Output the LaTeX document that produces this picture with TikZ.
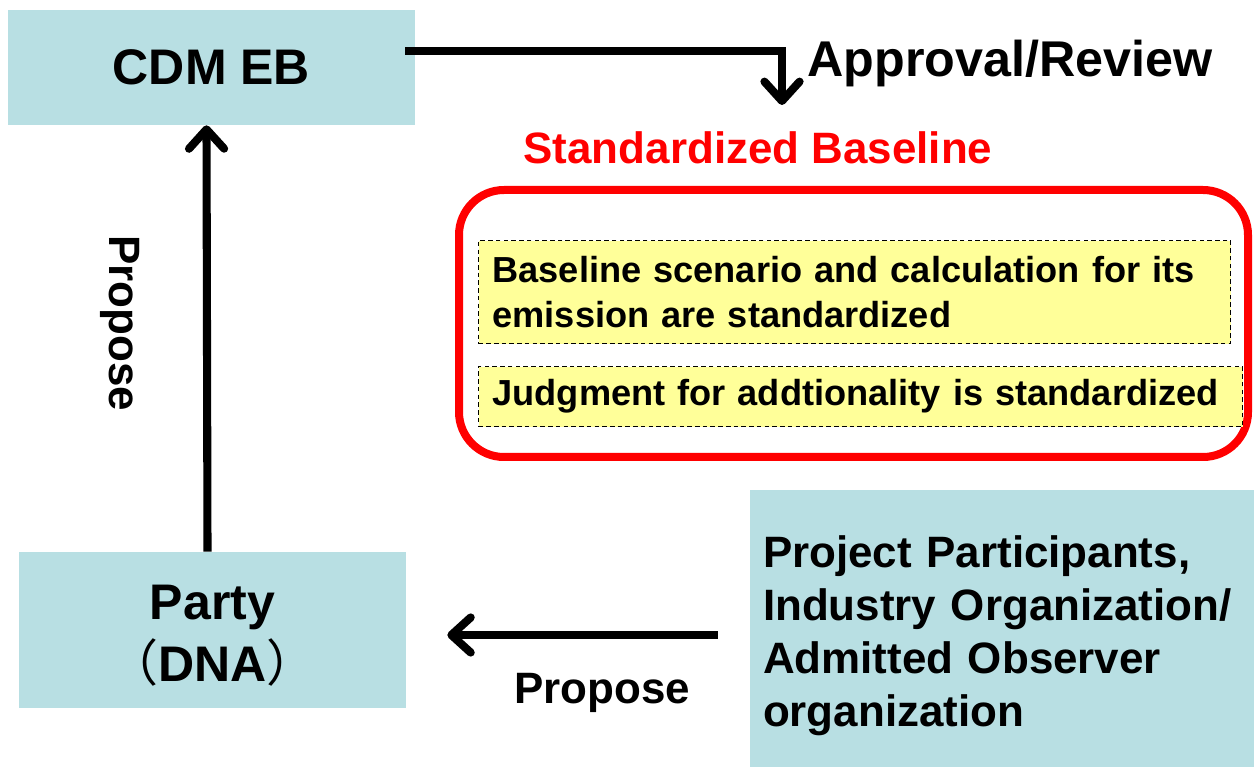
\documentclass[tikz,border=0pt]{standalone}
\usepackage{fontspec}
\setmainfont{Liberation Sans}
\newfontfamily\cjk{Noto Sans CJK SC}
\usetikzlibrary{arrows.meta,positioning}
\definecolor{boxcyan}{RGB}{184,223,227}
\definecolor{noteyellow}{RGB}{255,255,153}
\tikzset{
 orgbox/.style={fill=boxcyan, inner sep=0pt},
 notebox/.style={draw=black, fill=noteyellow, line width=0.6pt, dash pattern=on 2.6pt off 1.8pt,
   inner xsep=0.28cm, inner ysep=0pt, align=left, anchor=north west,
   font=\bfseries\fontsize{20.6}{25.6}\selectfont},
 arr/.style={-{Straight Barb[length=11pt,width=20pt,round]}, line width=4.6pt},
 lbl/.style={inner sep=0pt, font=\bfseries\fontsize{25}{30}\selectfont},
}
\begin{document}
\begin{tikzpicture}
 \useasboundingbox (0,0) rectangle (25.08,-15.34);
 %
 \node[orgbox, minimum width=8.14cm, minimum height=2.3cm,
   font=\bfseries\fontsize{28.45}{34}\selectfont] (cdm) at (4.23,-1.35) {CDM EB};
 \node[orgbox, minimum width=7.74cm, minimum height=3.12cm, align=center,
   font=\bfseries\fontsize{28.45}{35.3}\selectfont] (party) at (4.25,-12.6)
   {\rule{0pt}{26.3pt}Party\\{\cjk\mdseries （}DNA{\cjk\mdseries ）}};
 \node[orgbox, minimum height=5.54cm, text width=9.56cm, inner xsep=0.26cm, align=left,
   font=\bfseries\fontsize{25}{30.2}\selectfont] (proj) at (20.04,-12.57)
   {\rule{0pt}{26.3pt}Project Participants,\\Industry Organization/\\Admitted Observer\\organization};
 %
 \node[draw=red, line width=0.16cm, rounded corners=0.9cm, minimum width=15.78cm,
   minimum height=5.34cm] (frame) at (17.07,-6.47) {};
 \node[lbl, text=red] (sbtitle) at (15.16,-2.96) {Standardized Baseline};
 \node[notebox, text width=14.48cm, minimum height=2.06cm] (note1) at (9.56,-4.8)
   {Baseline scenario and calculation for its\\emission are standardized};
 \node[notebox, text width=14.72cm, minimum height=1.2cm,
   below=0.44cm of note1.south west, anchor=north west] (note2)
   {Judgment for addtionality is standardized};
 %
 \coordinate (revtip) at (15.64,-2.1);
 \draw[arr] ([xshift=-0.2cm,yshift=0.33cm]cdm.east) -| (revtip);
 \node[lbl, font=\bfseries\fontsize{28.6}{34}\selectfont, anchor=west] (review)
   at (16.14,-1.28) {Approval/Review};
 %
 \draw[arr] ([xshift=-0.1cm]party.north) -- ([xshift=-0.1cm]cdm.south);
 \node[lbl, rotate=-90] (propup) at (2.4,-6.46) {Propose};
 %
 \draw[arr] ([xshift=-0.64cm,yshift=-0.13cm]proj.west) coordinate (ps)
   -- ([xshift=0.82cm]ps -| party.east);
 \node[lbl] (propleft) at (12.04,-13.86) {Propose};
\end{tikzpicture}
\end{document}
